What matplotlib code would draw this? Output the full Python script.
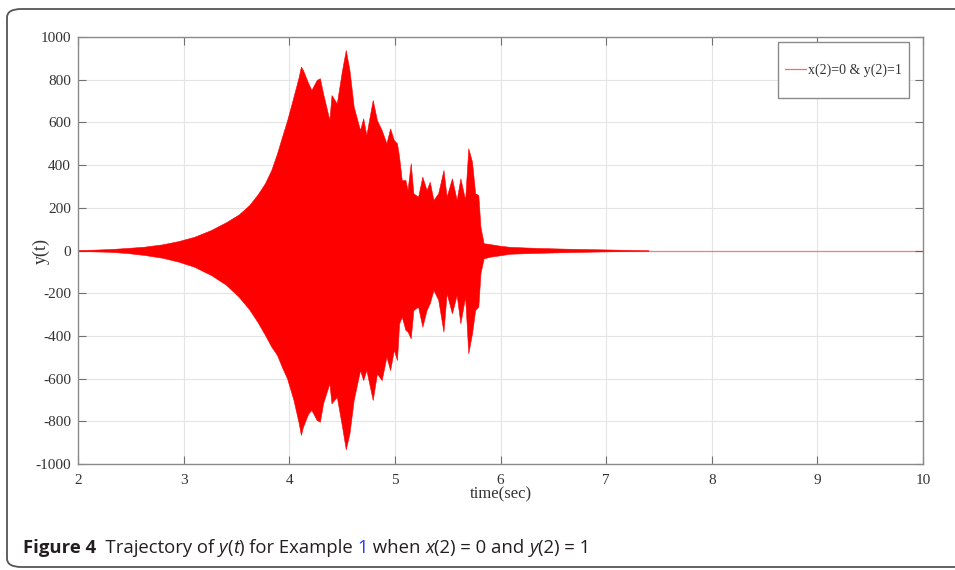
import numpy as np
import matplotlib
matplotlib.use('Agg')
import matplotlib.pyplot as plt
from matplotlib.patches import FancyBboxPatch, Rectangle

# envelope of y(t)
t_env = [2.00, 2.15, 2.31, 2.47, 2.63, 2.80, 2.95, 3.10, 3.26, 3.40, 3.52, 3.62,
         3.70, 3.77, 3.83, 3.885, 3.93, 3.98, 4.04, 4.09, 4.11, 4.13, 4.18, 4.21, 4.26,
         4.29, 4.32, 4.38, 4.40, 4.45, 4.50, 4.535, 4.57, 4.61, 4.67, 4.70, 4.73,
         4.79, 4.83, 4.875, 4.92, 4.955, 4.99, 5.02, 5.04, 5.065, 5.10, 5.12, 5.15,
         5.175, 5.22, 5.26, 5.30, 5.33, 5.365, 5.41, 5.46, 5.49, 5.54, 5.585, 5.62,
         5.665, 5.695, 5.73, 5.76, 5.79, 5.81, 5.84, 5.90, 6.00, 6.09, 6.35, 6.66,
         7.00, 7.40]
y_upper = [2, 4, 7, 12, 18, 29, 44, 64, 96, 132, 168, 212,
           262, 315, 377, 456, 530, 610, 720, 814, 861, 845, 783, 752, 799,
           807, 736, 611, 728, 689, 845, 939, 845, 674, 564, 619, 541,
           705, 611, 564, 502, 572, 517, 502, 439, 330, 330, 283, 409,
           268, 252, 346, 283, 322, 237, 268, 377, 252, 338, 237, 338,
           237, 479, 416, 268, 260, 111, 34, 30, 22, 17, 12, 8,
           5, 1]
y_lower = [-2, -4, -6, -12, -21, -34, -52, -76, -115, -160, -216, -275,
           -335, -395, -450, -490, -545, -600, -700, -809, -864, -825, -763, -747, -794,
           -802, -716, -622, -716, -685, -825, -931, -856, -700, -560, -607, -560,
           -700, -576, -607, -497, -560, -466, -513, -341, -310, -372, -380, -411,
           -279, -263, -357, -279, -247, -185, -230, -380, -200, -294, -208, -341,
           -216, -481, -388, -279, -263, -107, -37, -29, -22, -15, -11, -7,
           -4, -1]
t_flat = [2, 10]
y_flat = [0, 0]

xticks = [2, 3, 4, 5, 6, 7, 8, 9, 10]
yticks = [-1000, -800, -600, -400, -200, 0, 200, 400, 600, 800, 1000]

serif = 'Liberation Serif'
fig = plt.figure(figsize=(9.55, 5.70), dpi=100)

# rounded frame around figure + caption (right side runs off the image)
frame = FancyBboxPatch((7 / 955, 3 / 570), 1.05, 558 / 570,
                       boxstyle='round,pad=0,rounding_size=0.015',
                       transform=fig.transFigure, fc='none', ec='#555555', lw=1.3,
                       clip_on=False)
fig.patches.append(frame)

ax = fig.add_axes([78 / 955, 1 - 464 / 570, 845 / 955, 427 / 570])
ax.fill_between(t_env, y_lower, y_upper, color='#ff0000', lw=0.4, ec='#ff0000')
ln, = ax.plot(t_flat, y_flat, color='#ff0000', lw=0.9, alpha=0.45,
              label='x(2)=0 & y(2)=1')

ax.set_xlim(2, 10)
ax.set_ylim(-1000, 1000)
ax.set_xticks(xticks)
ax.set_xticklabels([str(v) for v in xticks])
ax.set_yticks(yticks)
ax.set_yticklabels([str(v) for v in yticks])
ax.grid(True, color='#e4e4e4', lw=0.8)
ax.set_axisbelow(True)
ax.tick_params(direction='in', length=5.5, width=0.8, color='#707070',
               top=True, right=True, labelsize=11, labelcolor='#333333')
ax.tick_params(axis='x', pad=7)
ax.tick_params(axis='y', pad=5)
for lab in ax.get_xticklabels() + ax.get_yticklabels():
    lab.set_fontfamily(serif)
for s in ax.spines.values():
    s.set_color('#8a8a8a')
    s.set_linewidth(1.0)

ax.set_xlabel('time(sec)', fontfamily=serif, fontsize=12, color='#333333')
ax.set_ylabel('y(t)', fontfamily=serif, fontsize=13, color='#333333')
ax.xaxis.set_label_coords(0.5, -(486 - 464) / 427)
ax.yaxis.set_label_coords(-(78 - 50) / 845, 0.5)

# MATLAB-like legend box
x0 = (778 - 78) / 845
x1 = (909 - 78) / 845
y0 = (464 - 98) / 427
y1 = (464 - 42) / 427
ax.add_patch(Rectangle((x0, y0), x1 - x0, y1 - y0, transform=ax.transAxes,
                       fc='white', ec='#8a8a8a', lw=1.0, zorder=5))
leg = ax.legend(handles=[ln], loc='center', bbox_to_anchor=((x0 + x1) / 2, (y0 + y1) / 2),
                frameon=False, prop={'family': serif, 'size': 10},
                handlelength=1.5, handletextpad=0.2)
leg.set_zorder(6)
leg.get_lines()[0].set_alpha(0.6)
for tx in leg.get_texts():
    tx.set_color('#333333')

# caption made of styled pieces
pieces = [('Figure 4', 'normal', 'bold', '#231f20'),
          ('  Trajectory of ', 'normal', 'normal', '#231f20'),
          ('y', 'italic', 'normal', '#231f20'),
          ('(', 'normal', 'normal', '#231f20'),
          ('t', 'italic', 'normal', '#231f20'),
          (') for Example ', 'normal', 'normal', '#231f20'),
          ('1', 'normal', 'normal', '#2a3cff'),
          (' when ', 'normal', 'normal', '#231f20'),
          ('x', 'italic', 'normal', '#231f20'),
          ('(2) = 0 and ', 'normal', 'normal', '#231f20'),
          ('y', 'italic', 'normal', '#231f20'),
          ('(2) = 1', 'normal', 'normal', '#231f20')]
renderer = fig.canvas.get_renderer()
xpos = 23 / 955
for txt, style, weight, col in pieces:
    t = fig.text(xpos, 1 - 553 / 570, txt, fontfamily='Open Sans', fontsize=13.3,
                 fontstyle=style, fontweight=weight, color=col, va='baseline', ha='left')
    bb = t.get_window_extent(renderer=renderer)
    xpos += bb.width / fig.bbox.width

fig.savefig('out.png', dpi=100)
